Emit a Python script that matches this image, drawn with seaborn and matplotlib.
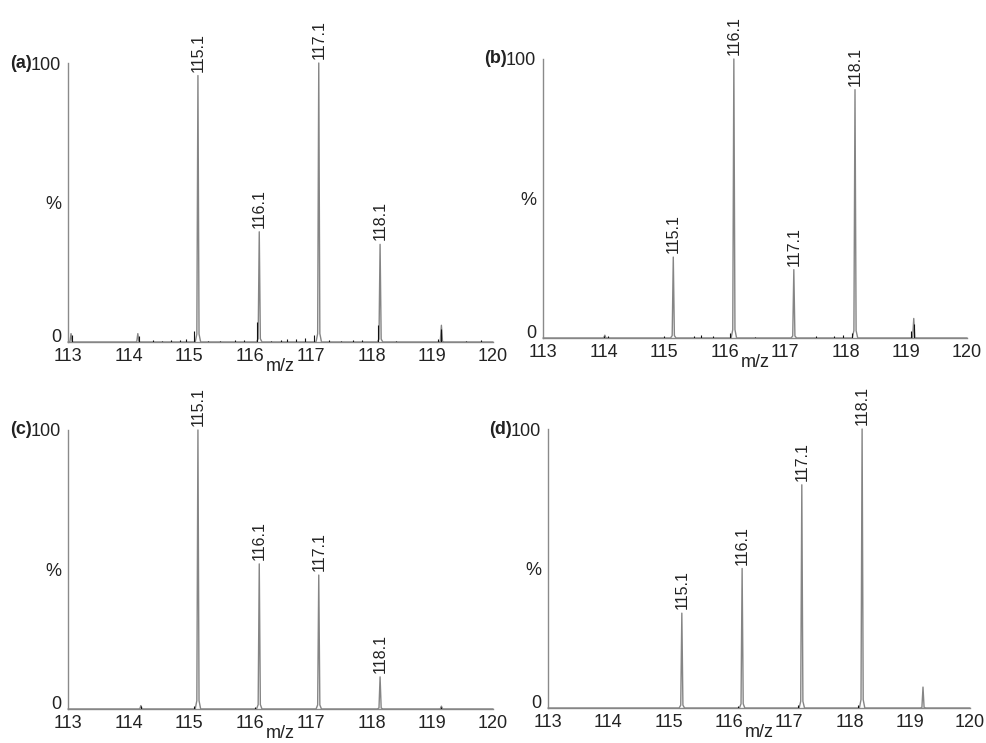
import numpy as np
import pandas as pd
import matplotlib
matplotlib.use('Agg')
import matplotlib.pyplot as plt
import seaborn as sns
from matplotlib.ticker import MultipleLocator, FixedLocator

sns.set_style('white')
plt.rcParams['font.family'] = ['Liberation Sans', 'DejaVu Sans']

# panel letters
panels = ['(a)', '(b)', '(c)', '(d)']

# labelled peaks: m/z position, relative intensity (%), label text
peak_mz = {
    '(a)': [115.14, 116.15, 117.13, 118.14],
    '(b)': [115.15, 116.15, 117.14, 118.15],
    '(c)': [115.14, 116.15, 117.13, 118.14],
    '(d)': [115.22, 116.22, 117.21, 118.21],
}
peak_int = {
    '(a)': [95.5, 39.5, 100, 35],
    '(b)': [29, 100, 24.5, 89],
    '(c)': [100, 52, 48, 11.5],
    '(d)': [34, 50, 80, 100],
}
peak_labels = ['115.1', '116.1', '117.1', '118.1']

# small unlabelled peaks
minor_mz = {
    '(a)': [113.05, 114.15, 119.15],
    '(b)': [114.02, 119.12],
    '(c)': [114.2, 119.15],
    '(d)': [119.22],
}
minor_int = {
    '(a)': [3, 3, 6],
    '(b)': [1, 7],
    '(c)': [1.2, 1],
    '(d)': [7.5],
}

# baseline noise (black)
noise_mz = {
    '(a)': [113.07, 114.17, 114.4, 114.55, 114.7, 114.85, 114.95, 115.08, 115.3, 115.5,
            115.75, 115.9, 116.11, 116.35, 116.5, 116.6, 116.75, 116.9, 117.05, 117.3,
            117.5, 117.7, 117.85, 118.1, 118.4, 119.1, 119.15, 119.55, 119.8],
    '(b)': [114.0, 114.08, 115.0, 115.5, 115.6, 115.8, 116.08, 116.5, 117.5, 117.8,
            117.95, 118.1, 119.08, 119.13],
    '(c)': [114.2, 115.08, 116.08, 119.15],
    '(d)': [116.15, 117.15, 118.15],
}
noise_int = {
    '(a)': [2.5, 2, 0.6, 0.5, 0.8, 0.8, 1.2, 4, 0.5, 0.4,
            0.6, 0.7, 7, 0.5, 0.8, 1.2, 1.2, 1.5, 2.5, 0.6,
            0.5, 0.6, 0.8, 6, 0.5, 1.2, 4.5, 0.5, 0.6],
    '(b)': [0.8, 0.6, 0.8, 0.8, 1, 0.8, 1.8, 0.5, 0.6, 0.8,
            1.2, 1.8, 2.5, 5],
    '(c)': [1, 1.2, 0.8, 0.8],
    '(d)': [0.8, 1, 1.2],
}

# axes rectangles in figure fraction (left, bottom, width, height)
rects = {
    '(a)': [0.0689, 0.5397, 0.4306, 0.3755],
    '(b)': [0.5502, 0.5451, 0.4296, 0.3755],
    '(c)': [0.0689, 0.0458, 0.4306, 0.3755],
    '(d)': [0.5552, 0.0471, 0.4276, 0.3755],
}

# narrow peak profile (style)
prof_dx = np.array([-0.045, -0.018, 0.0, 0.018, 0.045])
prof_rel = np.array([0.0, 0.03, 1.0, 0.03, 0.0])

axis_grey = '#8a8a8a'
text_col = '#222222'

fig = plt.figure(figsize=(9.87, 7.43), dpi=100)

for p in panels:
    ax = fig.add_axes(rects[p])
    xs = [113.0, 120.0]
    ys = [0.0, 0.0]
    for c, h in zip(peak_mz[p] + minor_mz[p], peak_int[p] + minor_int[p]):
        xs += list(c + prof_dx)
        ys += list(h * prof_rel)
    df = pd.DataFrame({'mz': xs, 'intensity': ys}).sort_values('mz')
    sns.lineplot(data=df, x='mz', y='intensity', estimator=None, sort=False,
                 color='#858585', lw=1.0, ax=ax, clip_on=False, zorder=3)
    ax.vlines(noise_mz[p], 0, noise_int[p], color='#111111', lw=0.8, zorder=4)

    for c, h, lab in zip(peak_mz[p], peak_int[p], peak_labels):
        ax.annotate(lab, xy=(c, h), xytext=(0, 4), textcoords='offset pixels',
                    rotation=90, ha='center', va='bottom', fontsize=11.5,
                    color=text_col, annotation_clip=False)

    ax.set_xlim(113, 120)
    ax.set_ylim(0, 100)
    sns.despine(ax=ax)
    for s in ['left', 'bottom']:
        ax.spines[s].set_color(axis_grey)
        ax.spines[s].set_linewidth(1.0)

    ax.xaxis.set_major_locator(MultipleLocator(1))
    ax.xaxis.set_minor_locator(MultipleLocator(0.2))
    ax.yaxis.set_major_locator(FixedLocator([0, 50, 100]))
    ax.set_yticklabels(['0', '%', '100'])
    ax.yaxis.set_minor_locator(MultipleLocator(10))
    ax.tick_params(axis='x', which='major', length=3, direction='inout', color=axis_grey,
                   labelsize=13, labelcolor=text_col, pad=3)
    ax.tick_params(axis='x', which='minor', length=1.5, direction='inout', color=axis_grey)
    ax.tick_params(axis='y', which='major', length=3, direction='out', color=axis_grey,
                   labelsize=13, labelcolor=text_col, pad=2)
    ax.tick_params(axis='y', which='minor', length=2, direction='inout', color=axis_grey)
    # sit the zero label on the axis line so it clears the x tick labels
    ax.get_yticklabels()[0].set_va('baseline')

    ax.set_xlabel('m/z', fontsize=13, color=text_col, labelpad=-5)
    ax.set_ylabel('')
    ax.annotate(p, xy=(0, 1), xycoords='axes fraction', xytext=(-36, 0),
                textcoords='offset pixels', ha='right', va='center',
                fontsize=13, fontweight='bold', color=text_col)

fig.savefig('out.png', dpi=100)
